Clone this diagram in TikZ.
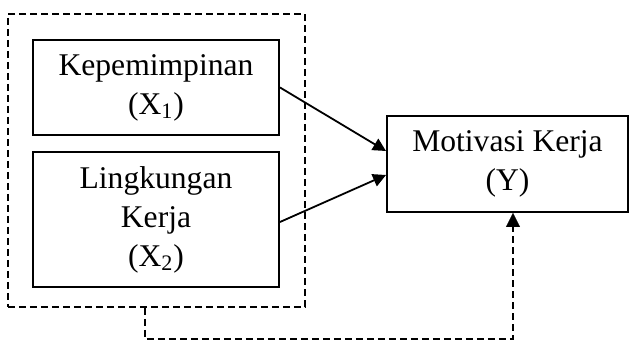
\documentclass[tikz,border=0pt]{standalone}
\usepackage{fontspec}
\setmainfont{Liberation Serif}
\usetikzlibrary{arrows.meta,positioning}

\begin{document}
\begin{tikzpicture}[x=0.5pt,y=-0.5pt,font=\fontsize{15.8}{19.5}\selectfont]
\tikzset{
  varbox/.style={draw=black,line width=1pt,align=center,inner sep=0pt,
    minimum width=123pt},
  grpbox/.style={draw=black,line width=0.8pt,dash pattern=on 3.5pt off 2pt,
    minimum width=148.5pt,minimum height=146.5pt,inner sep=0pt},
  fl/.style={-{Triangle[length=6.5pt,width=6.5pt]},line width=0.9pt},
  dfl/.style={-{Triangle[length=7pt,width=7pt,line width=0.01pt]},line width=0.9pt,
    dash pattern=on 3.5pt off 2pt}
}
\useasboundingbox (0,0) rectangle (629,340);
\node[grpbox] (grp) at (156.5,160.5) {};
\node[varbox,minimum height=47.5pt] (x1) at (156,87.5) {Kepemimpinan\\(X\textsubscript{1})};
\node[varbox,minimum height=67.5pt] (x2) at (156,219.5) {Lingkungan\\Kerja\\(X\textsubscript{2})};
\node[varbox,minimum width=120.5pt,minimum height=48pt] (y) at (507.5,164) {Motivasi Kerja\\(Y)};
\draw[fl] (x1.east) -- ([yshift=6.5pt]y.west);
\draw[fl] ([yshift=-1.25pt]x2.east) -- ([yshift=-5.5pt]y.west);
\draw[dfl] ([xshift=-5.75pt]grp.south) -- ++(0,31) -| ([xshift=2.75pt]y.south);
\end{tikzpicture}
\end{document}
